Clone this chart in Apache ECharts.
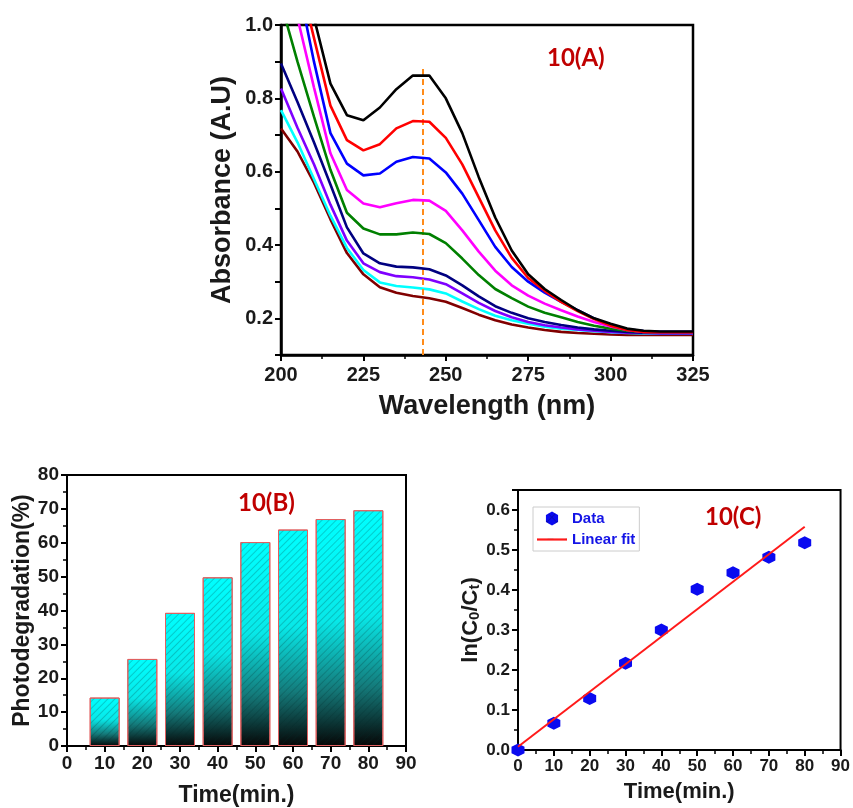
<!DOCTYPE html>
<html>
<head>
<meta charset="utf-8">
<title>Photodegradation</title>
<script src="https://cdn.jsdelivr.net/npm/echarts@6/dist/echarts.min.js"></script>
<style>
  html, body { margin: 0; padding: 0; background: #fff; }
  #chart { width: 853px; height: 808px; }
</style>
</head>
<body>
<div id="chart"></div>
<script>
// ---- data ----
var wavelength = [200, 205, 210, 215, 220, 225, 230, 235, 240, 245, 250, 255, 260,
                  265, 270, 275, 280, 285, 290, 295, 300, 305, 310, 315, 320, 325];

var abs0  = [1.40, 1.20, 1.02, 0.840, 0.754, 0.740, 0.775, 0.825, 0.862, 0.862, 0.800, 0.705, 0.585,
             0.475, 0.385, 0.320, 0.280, 0.250, 0.222, 0.200, 0.185, 0.172, 0.166, 0.164, 0.164, 0.164];
var abs10 = [1.35, 1.15, 0.965, 0.780, 0.686, 0.658, 0.675, 0.718, 0.738, 0.736, 0.692, 0.620, 0.530,
             0.440, 0.365, 0.310, 0.275, 0.245, 0.220, 0.198, 0.180, 0.168, 0.163, 0.162, 0.162, 0.162];
var abs20 = [1.25, 1.12, 0.900, 0.705, 0.622, 0.590, 0.595, 0.627, 0.640, 0.636, 0.598, 0.540, 0.468,
             0.395, 0.340, 0.300, 0.270, 0.245, 0.222, 0.200, 0.182, 0.170, 0.165, 0.163, 0.163, 0.163];
var abs30 = [1.15, 1.02, 0.830, 0.650, 0.550, 0.513, 0.503, 0.514, 0.523, 0.521, 0.493, 0.440, 0.382,
             0.330, 0.290, 0.262, 0.240, 0.222, 0.205, 0.190, 0.178, 0.168, 0.163, 0.162, 0.162, 0.162];
var abs40 = [1.06, 0.900, 0.750, 0.605, 0.488, 0.445, 0.429, 0.429, 0.434, 0.430, 0.405, 0.363, 0.318,
             0.280, 0.255, 0.232, 0.215, 0.203, 0.190, 0.180, 0.172, 0.166, 0.163, 0.162, 0.162, 0.162];
var abs50 = [0.895, 0.790, 0.680, 0.565, 0.448, 0.377, 0.350, 0.341, 0.339, 0.334, 0.317, 0.290, 0.260,
             0.233, 0.215, 0.200, 0.190, 0.182, 0.175, 0.170, 0.166, 0.163, 0.161, 0.160, 0.160, 0.160];
var abs60 = [0.827, 0.720, 0.620, 0.510, 0.412, 0.350, 0.326, 0.315, 0.312, 0.306, 0.293, 0.268, 0.242,
             0.220, 0.203, 0.190, 0.181, 0.175, 0.170, 0.166, 0.163, 0.161, 0.160, 0.159, 0.159, 0.159];
var abs70 = [0.768, 0.680, 0.580, 0.480, 0.392, 0.332, 0.298, 0.288, 0.284, 0.279, 0.268, 0.246, 0.225,
             0.207, 0.195, 0.185, 0.177, 0.172, 0.168, 0.165, 0.162, 0.160, 0.159, 0.158, 0.158, 0.158];
var abs80 = [0.718, 0.655, 0.570, 0.470, 0.378, 0.320, 0.285, 0.270, 0.261, 0.255, 0.245, 0.228, 0.210,
             0.195, 0.183, 0.175, 0.168, 0.163, 0.160, 0.158, 0.156, 0.155, 0.155, 0.155, 0.155, 0.155];
var peakWl = 243, peakTop = 0.88;

var timeBars = [10, 20, 30, 40, 50, 60, 70, 80];
var degradation = [14.3, 25.7, 39.3, 49.8, 60.2, 63.9, 67.0, 69.6];

var timeKin = [0, 10, 20, 30, 40, 50, 60, 70, 80];
var lnRatio = [0.0, 0.067, 0.129, 0.217, 0.300, 0.402, 0.443, 0.482, 0.518];
var fitX = [0, 80];
var fitY = [0.008, 0.558];

var absCurves = [abs0, abs10, abs20, abs30, abs40, abs50, abs60, abs70, abs80];
var absColors = ['#000000', '#ff0000', '#0000ff', '#ff00ff', '#008000', '#000080', '#7f00ff', '#00ffff', '#800000'];

var FONT = "'Liberation Sans', Arial, sans-serif";
var myChart = echarts.init(document.getElementById('chart'));

function zip(xs, ys) {
    return xs.map(function (x, i) { return [x, ys[i]]; });
}

function axisBase(opt) {
    var base = {
        type: 'value',
        splitLine: { show: false },
        axisLine: { onZero: false, lineStyle: { color: '#000', width: 2.5 } },
        axisTick: { length: 6, lineStyle: { color: '#000', width: 2 } },
        minorTick: { show: true, splitNumber: 2, length: 4, lineStyle: { color: '#000', width: 1.5 } },
        axisLabel: { color: '#1a1a1a', fontWeight: 'bold', fontFamily: FONT },
        nameLocation: 'middle',
        nameTextStyle: { color: '#1a1a1a', fontWeight: 'bold', fontFamily: FONT }
    };
    return echarts.util.merge(base, opt, true);
}

var hexPath = 'path://M0,-1L0.866,-0.5L0.866,0.5L0,1L-0.866,0.5L-0.866,-0.5Z';
var fitIcon = 'path://M0,0L30,0L30,2.2L0,2.2Z';

var series = absCurves.map(function (ys, i) {
    var s = {
        name: 'abs' + i,
        type: 'line',
        xAxisIndex: 0,
        yAxisIndex: 0,
        data: zip(wavelength, ys),
        showSymbol: false,
        symbol: 'none',
        clip: true,
        lineStyle: { color: absColors[i], width: 2.6 },
        z: 10 - i
    };
    if (i === 0) {
        s.markLine = {
            silent: true,
            symbol: 'none',
            label: { show: false },
            lineStyle: { type: [6, 4], color: '#ff8c1a', width: 2 },
            data: [[{ coord: [peakWl, peakTop] }, { coord: [peakWl, 0.1] }]]
        };
    }
    return s;
});

series.push({
    name: 'Photodegradation',
    type: 'bar',
    xAxisIndex: 1,
    yAxisIndex: 1,
    data: zip(timeBars, degradation),
    barWidth: 30,
    itemStyle: {
        color: new echarts.graphic.LinearGradient(0, 0, 0, 1, [
            { offset: 0, color: '#00ffff' },
            { offset: 0.45, color: '#08e8e8' },
            { offset: 0.75, color: '#147a7a' },
            { offset: 1, color: '#060606' }
        ]),
        borderColor: '#e06060',
        borderWidth: 1,
        decal: {
            symbol: 'rect',
            symbolSize: 1,
            dashArrayX: [1, 0],
            dashArrayY: [1, 4],
            rotation: -Math.PI / 4,
            color: 'rgba(0, 40, 40, 0.22)'
        }
    }
});

series.push({
    name: 'Data',
    type: 'scatter',
    xAxisIndex: 2,
    yAxisIndex: 2,
    data: zip(timeKin, lnRatio),
    symbol: hexPath,
    symbolSize: 13,
    clip: false,
    itemStyle: { color: '#0a0af0', opacity: 1 },
    z: 5
});

series.push({
    name: 'Linear fit',
    type: 'line',
    xAxisIndex: 2,
    yAxisIndex: 2,
    data: zip(fitX, fitY),
    showSymbol: false,
    symbol: 'none',
    itemStyle: { color: '#ff1a1a' },
    lineStyle: { color: '#ff1a1a', width: 2 },
    z: 6
});

var option = {
    animation: false,
    backgroundColor: '#fff',
    aria: { enabled: true, decal: { show: true } },
    grid: [
        { left: 281, top: 25, width: 412, height: 330, show: true, borderColor: '#000', borderWidth: 2.5 },
        { left: 67, top: 475, width: 339, height: 272, show: true, borderColor: '#000', borderWidth: 2 },
        { left: 518, top: 490, width: 326, height: 260, show: true, borderColor: '#000', borderWidth: 2 }
    ],
    xAxis: [
        axisBase({
            gridIndex: 0, min: 200, max: 325, interval: 25,
            axisLabel: { fontSize: 20, margin: 10 },
            name: 'Wavelength (nm)', nameGap: 38,
            nameTextStyle: { fontSize: 27 }
        }),
        axisBase({
            gridIndex: 1, min: 0, max: 90, interval: 10,
            axisLine: { lineStyle: { width: 2 } },
            axisLabel: { fontSize: 19, margin: 8 },
            name: 'Time(min.)', nameGap: 38,
            nameTextStyle: { fontSize: 23 }
        }),
        axisBase({
            gridIndex: 2, min: 0, max: 90, interval: 10,
            axisLine: { lineStyle: { width: 2 } },
            axisLabel: { fontSize: 17, margin: 8 },
            name: 'Time(min.)', nameGap: 31,
            nameTextStyle: { fontSize: 22 }
        })
    ],
    yAxis: [
        axisBase({
            gridIndex: 0, min: 0.1, max: 1.0, interval: 0.1,
            minorTick: { show: false },
            axisLabel: {
                fontSize: 20, margin: 8,
                formatter: function (v) {
                    return Math.round(v * 10) % 2 === 0 ? v.toFixed(1) : '';
                }
            },
            name: 'Absorbance (A.U)', nameGap: 45,
            nameTextStyle: { fontSize: 27 }
        }),
        axisBase({
            gridIndex: 1, min: 0, max: 80, interval: 10,
            axisLine: { lineStyle: { width: 2 } },
            axisLabel: { fontSize: 19, margin: 8 },
            name: 'Photodegradation(%)', nameGap: 30,
            nameTextStyle: { fontSize: 23 }
        }),
        axisBase({
            gridIndex: 2, min: 0, max: 0.65, interval: 0.1,
            axisLine: { lineStyle: { width: 2 } },
            axisLabel: {
                fontSize: 17, margin: 8,
                formatter: function (v) {
                    return Math.abs(v * 10 - Math.round(v * 10)) < 1e-6 ? v.toFixed(1) : '';
                }
            },
            name: '{a|ln(C}{s|0}{a|/C}{s|t}{a|)}', nameGap: 31,
            nameTextStyle: {
                rich: {
                    a: { fontSize: 22, fontWeight: 'bold', fontFamily: FONT, color: '#1a1a1a' },
                    s: { fontSize: 15, fontWeight: 'bold', fontFamily: FONT, color: '#1a1a1a', padding: [8, 0, 0, 0] }
                }
            }
        })
    ],
    legend: {
        data: [{ name: 'Data', icon: hexPath }, { name: 'Linear fit', icon: fitIcon }],
        orient: 'vertical',
        left: 533,
        top: 507,
        padding: [4, 4, 4, 4],
        itemGap: 6,
        itemWidth: 30,
        itemHeight: 14,
        borderColor: '#cccccc',
        borderWidth: 1,
        backgroundColor: '#fff',
        textStyle: { color: '#1414e6', fontSize: 15, fontWeight: 'bold', fontFamily: FONT }
    },
    graphic: [
        { type: 'text', left: 547, top: 46, style: { text: '10(A)', fill: '#c00000', fontSize: 24, fontWeight: 'bold', fontFamily: 'Lato, sans-serif' } },
        { type: 'text', left: 238, top: 491, style: { text: '10(B)', fill: '#c00000', fontSize: 24, fontWeight: 'bold', fontFamily: 'Lato, sans-serif' } },
        { type: 'text', left: 705, top: 505, style: { text: '10(C)', fill: '#c00000', fontSize: 24, fontWeight: 'bold', fontFamily: 'Lato, sans-serif' } }
    ],
    series: series
};

myChart.setOption(option);
</script>
</body>
</html>
